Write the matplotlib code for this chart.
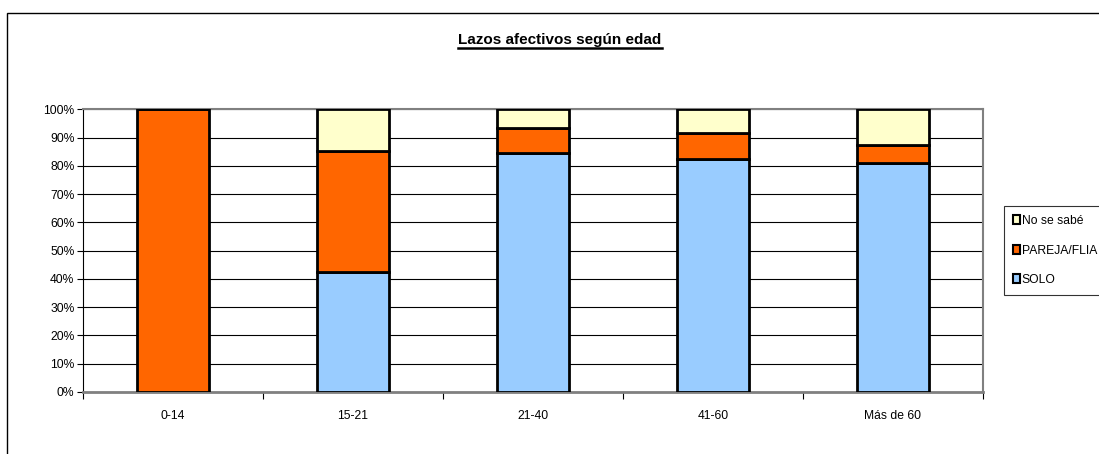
import numpy as np
import matplotlib
matplotlib.use("Agg")
from matplotlib import pyplot as plt, ticker as mtick
from matplotlib.patches import Rectangle
from matplotlib.lines import Line2D

plt.rcParams['font.family'] = ['Liberation Sans', 'DejaVu Sans']

# Data (percent of each age group)
categories = ["0-14", "15-21", "21-40", "41-60", "Más de 60"]
solo = [0, 42.6, 84.5, 82.3, 81.1]
pareja_flia = [100, 42.8, 9.0, 9.4, 6.3]
no_se_sabe = [0, 14.6, 6.5, 8.3, 12.6]
y_ticks = [0, 10, 20, 30, 40, 50, 60, 70, 80, 90, 100]

fig = plt.figure(figsize=(10.99, 4.54), dpi=100)
ax = fig.add_axes([82.7 / 1099, 1 - 392 / 454, (983 - 82.7) / 1099, (392 - 109.3) / 454])

x = np.arange(len(categories))
width = 0.4
edge = dict(edgecolor="black", linewidth=2.0, zorder=3)
b1 = ax.bar(x, solo, width, color="#99CCFF", label="SOLO", **edge)
b2 = ax.bar(x, pareja_flia, width, bottom=solo, color="#FF6600", label="PAREJA/FLIA", **edge)
b3 = ax.bar(x, no_se_sabe, width, bottom=np.add(solo, pareja_flia), color="#FFFFCC", label="No se sabé", **edge)

ax.set_xlim(-0.5, len(categories) - 0.5)
ax.set_ylim(0, 100)
ax.set_yticks(y_ticks)
ax.yaxis.set_major_formatter(mtick.PercentFormatter(100, decimals=0))
ax.grid(axis="y", color="black", linewidth=0.8, zorder=0)
ax.set_axisbelow(True)

# x axis: labels centered, ticks between categories
ax.set_xticks(x)
ax.set_xticklabels(categories)
ax.set_xticks(np.arange(-0.5, len(categories), 1.0), minor=True)
ax.tick_params(axis="x", which="major", length=0, pad=13, labelsize=8.7)
ax.tick_params(axis="x", which="minor", length=5, width=0.8, direction="out")
ax.tick_params(axis="y", length=4, width=0.8, direction="out", labelsize=8.7, pad=2)

for side in ["top", "right"]:
    ax.spines[side].set_color("#808080")
    ax.spines[side].set_linewidth(1.5)
ax.spines["bottom"].set_color("#808080")
ax.spines["bottom"].set_linewidth(2.0)
ax.spines["left"].set_color("black")
ax.spines["left"].set_linewidth(0.8)

# Legend (reversed order like the reference)
leg = fig.legend(handles=[b3, b2, b1], labels=["No se sabé", "PAREJA/FLIA", "SOLO"],
                 loc="upper left", bbox_to_anchor=(1004 / 1099, 1 - 206 / 454),
                 frameon=True, fancybox=False, edgecolor="black", fontsize=8.7,
                 handlelength=0.55, handleheight=0.75, handletextpad=0.15,
                 labelspacing=1.45, borderpad=0.75, borderaxespad=0)
leg.get_frame().set_linewidth(0.8)
for h in leg.legend_handles:
    h.set_linewidth(1.5)

# Title, bold and underlined
title = fig.text(560 / 1099, 1 - 40 / 454, "Lazos afectivos según edad", ha="center", va="center",
                 fontsize=11, fontweight="bold")
fig.canvas.draw()
bb = title.get_window_extent(renderer=fig.canvas.get_renderer()).transformed(fig.transFigure.inverted())
fig.add_artist(Line2D([bb.x0, bb.x1], [bb.y0 - 0.003, bb.y0 - 0.003], color="black", linewidth=1.8,
                      transform=fig.transFigure))

# Outer chart border (runs past the right and bottom edges)
fig.add_artist(Rectangle((7 / 1099, -0.1), 1.2, 1 - 12.5 / 454 + 0.1, transform=fig.transFigure,
                         fill=False, edgecolor="black", linewidth=1.0))

fig.savefig("out.png", dpi=100)
